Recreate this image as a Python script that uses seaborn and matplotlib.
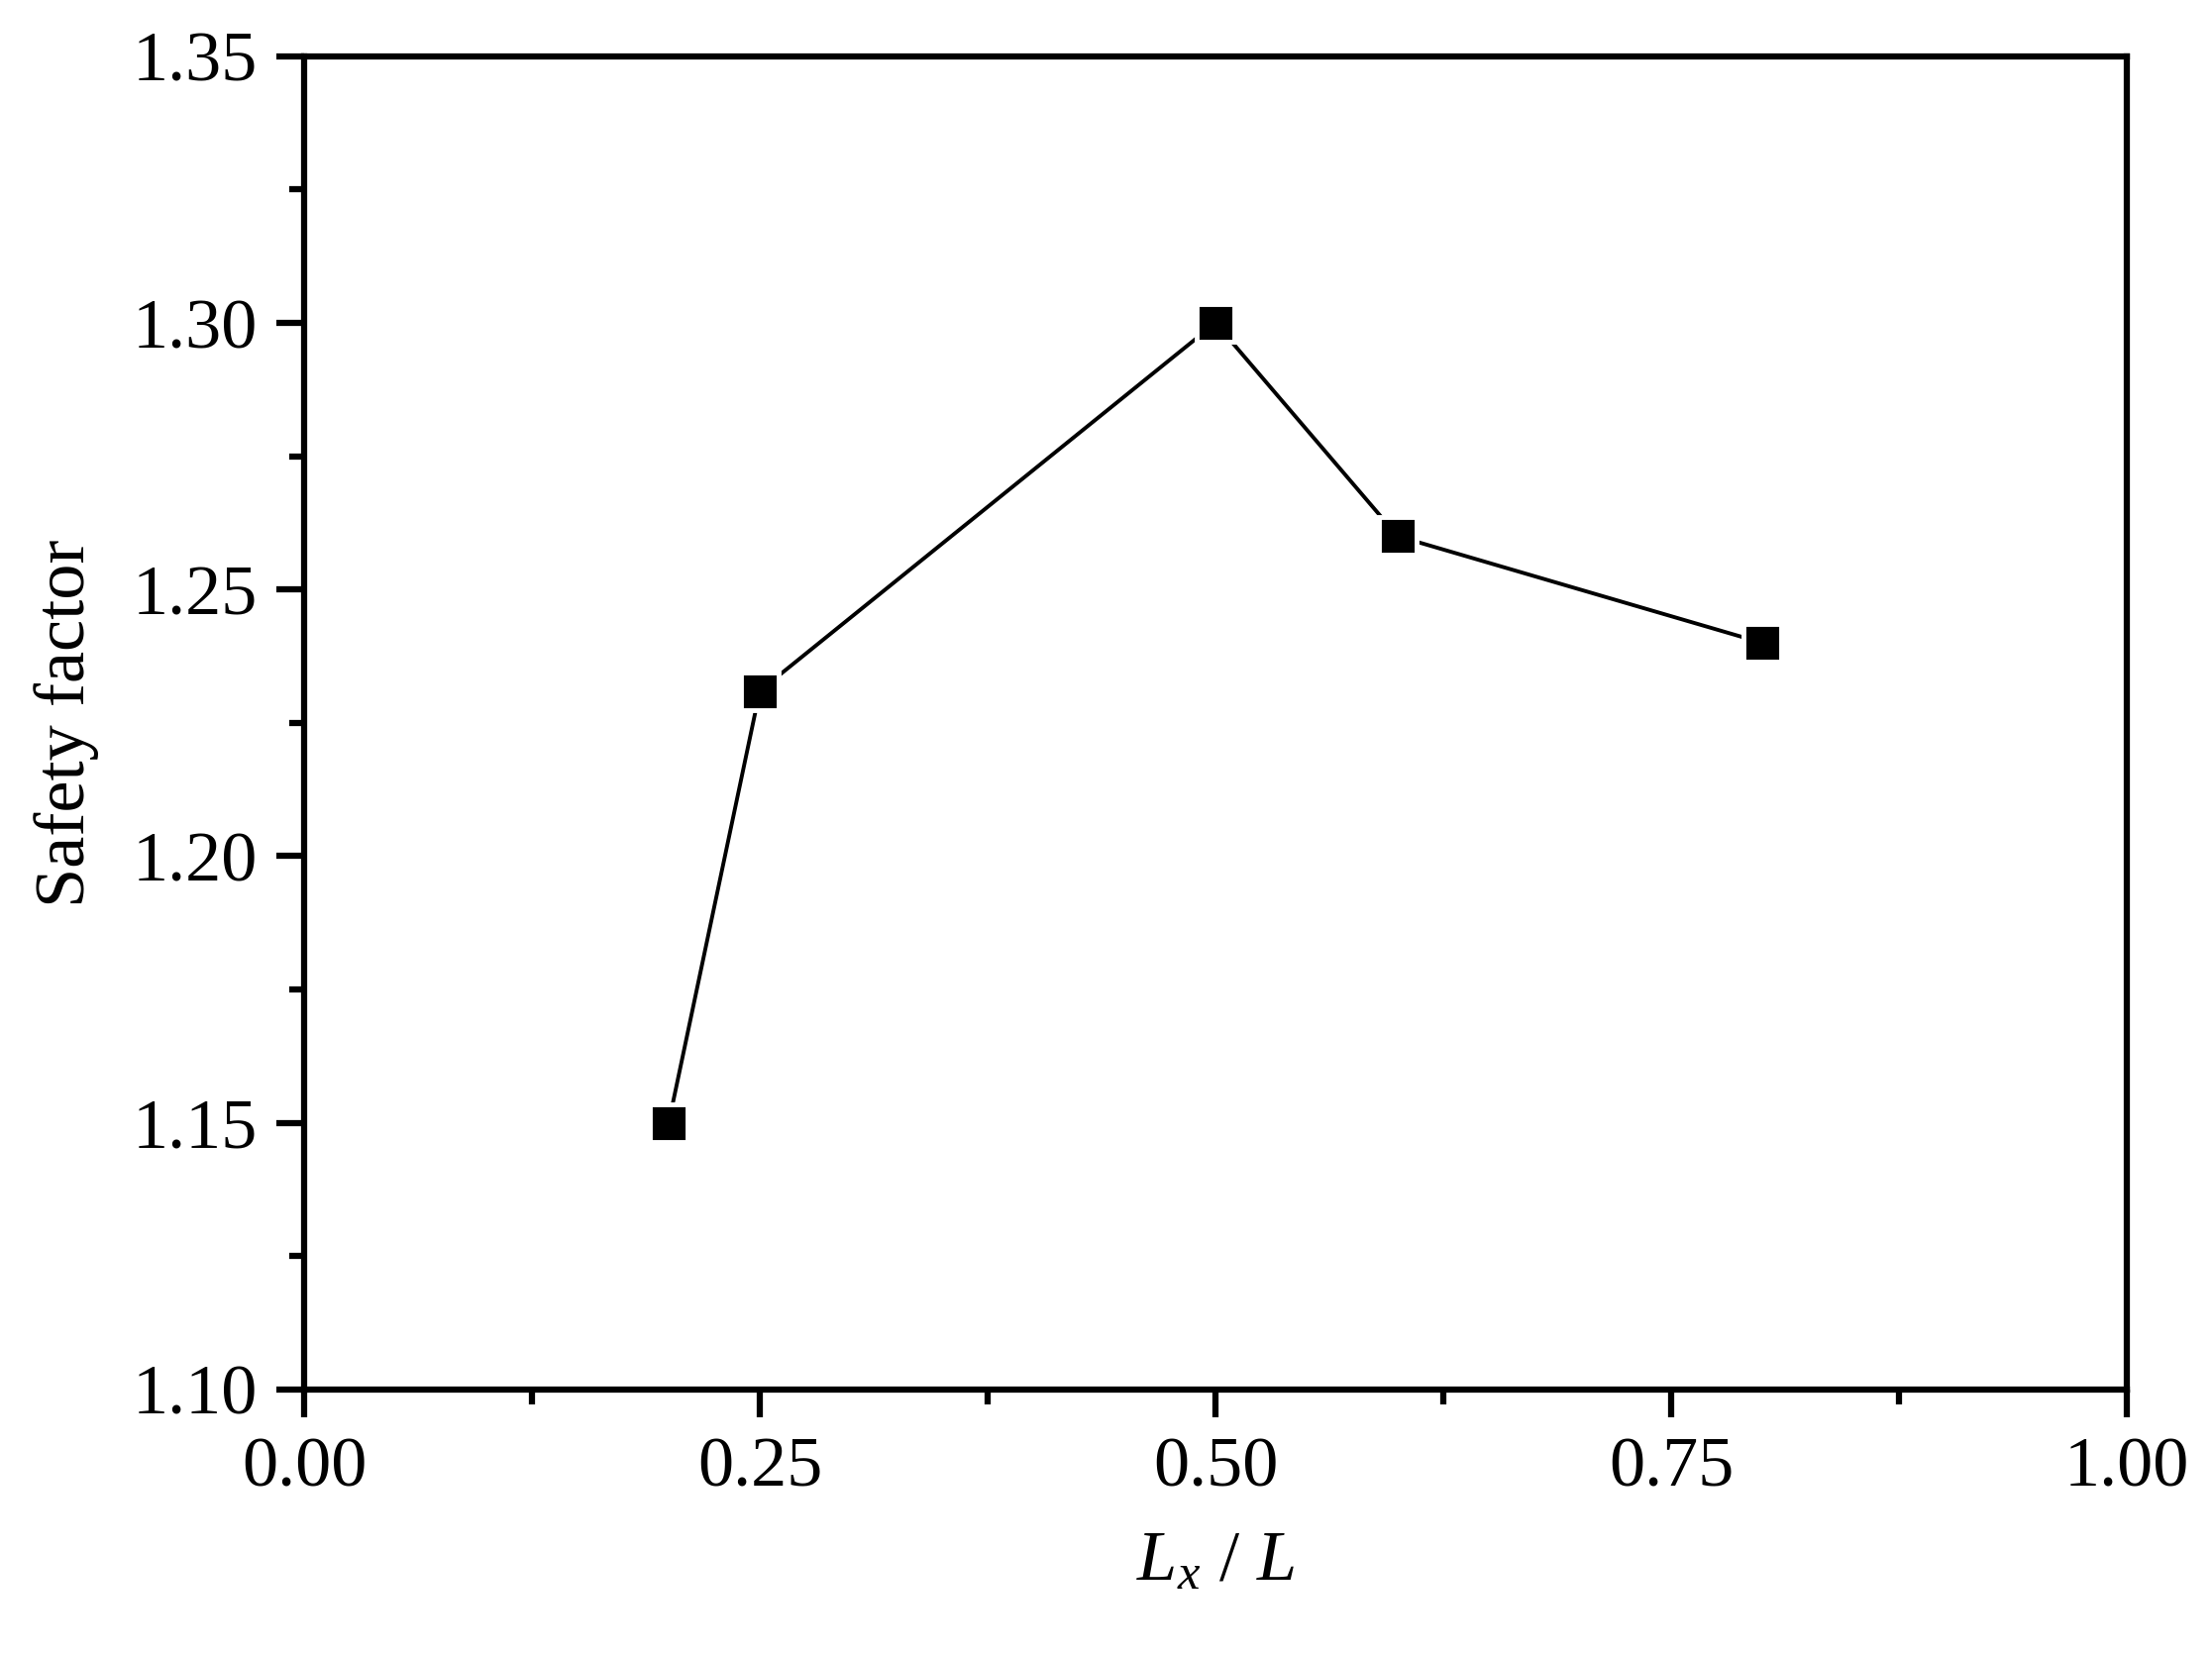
import matplotlib
matplotlib.use("Agg")
import matplotlib.pyplot as plt
import seaborn as sns
import pandas as pd
from matplotlib.ticker import MultipleLocator, FormatStrFormatter

# ─── Data ───────────────────────────────────────────────────────────────────
lx_ratio = [0.20, 0.25, 0.50, 0.60, 0.80]
safety_factor = [1.150, 1.231, 1.300, 1.260, 1.240]

df = pd.DataFrame({"ratio": lx_ratio, "sf": safety_factor})

# ─── Style ──────────────────────────────────────────────────────────────────
sns.set_style("ticks")
plt.rcParams.update({
    "font.family": ["Liberation Serif", "DejaVu Serif"],
    "mathtext.fontset": "custom",
    "mathtext.rm": "Liberation Serif",
    "mathtext.it": "Liberation Serif:italic",
    "axes.edgecolor": "black",
    "axes.labelcolor": "black",
    "text.color": "black",
    "xtick.color": "black",
    "ytick.color": "black",
    "axes.linewidth": 4.5,
})

fig = plt.figure(figsize=(22.33, 16.72), dpi=100)
ax = fig.add_axes([0.1375, 0.161, 0.824, 0.805])

sns.lineplot(data=df, x="ratio", y="sf", ax=ax, color="black", linewidth=2.8,
             marker="s", markersize=27, markerfacecolor="black",
             markeredgecolor="white", markeredgewidth=3.5, sort=False)

ax.set_xlim(0, 1.0)
ax.set_ylim(1.10, 1.35)
ax.xaxis.set_major_locator(MultipleLocator(0.25))
ax.xaxis.set_minor_locator(MultipleLocator(0.125))
ax.yaxis.set_major_locator(MultipleLocator(0.05))
ax.yaxis.set_minor_locator(MultipleLocator(0.025))
ax.xaxis.set_major_formatter(FormatStrFormatter("%.2f"))
ax.yaxis.set_major_formatter(FormatStrFormatter("%.2f"))

ax.tick_params(which="major", direction="out", length=20, width=4.5,
               labelsize=52, pad=14, colors="black")
ax.tick_params(which="minor", direction="out", length=11, width=4.5)
ax.tick_params(top=False, right=False, which="both")

for sp in ax.spines.values():
    sp.set_visible(True)
    sp.set_color("black")
    sp.set_linewidth(4.5)

ax.set_xlabel(r"$L_x$ / $L$", fontsize=52, labelpad=22, color="black")
ax.set_ylabel("Safety factor", fontsize=52, labelpad=24, color="black")

fig.savefig("out.png", dpi=100, facecolor="white")
plt.close()
